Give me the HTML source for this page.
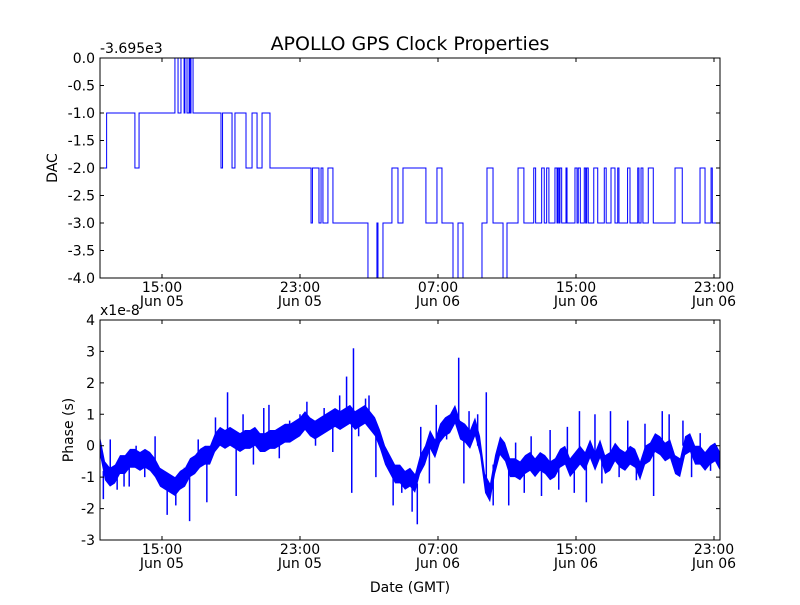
<!DOCTYPE html>
<html><head><meta charset="utf-8"><style>
body{margin:0;background:#fff}
svg text{font-family:"DejaVu Sans","Liberation Sans",sans-serif;fill:#000}
</style></head><body>
<svg id="c" width="800" height="600" xmlns="http://www.w3.org/2000/svg">
<rect width="800" height="600" fill="#fff"/>
<text x="410" y="50" font-size="19" text-anchor="middle">APOLLO GPS Clock Properties</text>
<text x="100" y="53" font-size="14">-3.695e3</text>
<text x="100" y="315" font-size="14">x1e-8</text>
<text transform="translate(57,168) rotate(-90)" font-size="14" text-anchor="middle">DAC</text>
<text transform="translate(73,430) rotate(-90)" font-size="14" text-anchor="middle">Phase (s)</text>
<text x="410" y="592" font-size="14" text-anchor="middle">Date (GMT)</text>
<g id="top"></g>
<g id="bot"></g>
</svg>
<script>
// x ticks (hours since Jun 05 00:00)
const tickHours = [15, 23, 31, 39, 47];
const tickTime = ["15:00", "23:00", "07:00", "15:00", "23:00"];
const tickDate = ["Jun 05", "Jun 05", "Jun 06", "Jun 06", "Jun 06"];
const dacTicks = [0, -0.5, -1, -1.5, -2, -2.5, -3, -3.5, -4];
const phaseTicks = [4, 3, 2, 1, 0, -1, -2, -3];
// DAC step series: change times (hours) and new values
const dacTimes = [11.41,11.79,13.43,13.67,15.75,15.93,16.10,16.28,16.33,16.45,16.57,16.62,16.68,16.80,18.42,18.51,19.06,19.23,19.87,20.22,20.51,20.80,21.26,23.64,23.72,24.10,24.22,24.33,24.62,24.91,26.94,27.46,27.52,27.81,28.33,28.68,28.97,30.30,30.94,31.23,31.87,32.16,32.45,33.55,33.84,34.19,34.77,35.00,35.64,35.98,36.55,36.66,37.01,37.16,37.30,37.43,37.78,37.90,37.94,38.01,38.07,38.17,38.42,38.48,38.94,39.06,39.13,39.25,39.48,39.56,39.62,39.71,40.03,40.26,40.64,40.75,41.03,41.26,41.42,41.49,41.99,42.13,42.58,42.65,42.77,42.88,43.19,43.48,44.74,45.16,46.19,46.48,46.83,46.90];
const dacValues = [-2,-1,-2,-1,0,-1,0,-1,0,-1,0,-1,0,-1,-2,-1,-2,-1,-2,-1,-2,-1,-2,-3,-2,-3,-2,-3,-2,-3,-4,-3,-4,-3,-2,-3,-2,-3,-2,-3,-4,-3,-4,-3,-2,-3,-4,-3,-2,-3,-2,-3,-2,-3,-2,-3,-2,-3,-2,-3,-2,-3,-2,-3,-2,-3,-2,-3,-2,-3,-2,-3,-2,-3,-2,-3,-2,-3,-2,-3,-2,-3,-2,-3,-2,-3,-2,-3,-2,-3,-2,-3,-2,-3];
const dacEnd = 47.4;
// Phase (1e-8 s) sampled from start hour with fixed step
const phaseStart = 11.406, phaseStep = 0.2899;
const phaseValues = [0,-0.8,-1.0,-0.9,-0.6,-0.6,-0.4,-0.4,-0.5,-0.4,-0.5,-0.7,-1.0,-1.1,-1.2,-1.3,-1.1,-1.0,-0.7,-0.6,-0.4,-0.3,-0.3,0.1,0.3,0.2,0.3,0.2,0.1,0.2,0.2,0.3,0.1,0.1,0.2,0.2,0.3,0.4,0.4,0.5,0.6,0.8,0.6,0.5,0.6,0.7,0.8,0.9,0.8,0.9,1.0,0.8,0.9,1.0,0.8,0.6,0.2,-0.3,-0.6,-0.9,-0.9,-1.1,-1.0,-1.2,-0.6,-0.3,0.2,-0.1,0.4,0.6,0.7,1.0,0.5,0.4,0.2,0.6,0.0,-1.2,-1.5,-0.6,0.0,-0.2,-0.7,-0.7,-0.8,-0.6,-0.5,-0.7,-0.5,-0.6,-0.8,-0.7,-0.4,-0.3,-0.7,-0.5,-0.3,-0.5,-0.1,-0.5,-0.1,-0.6,-0.5,-0.2,-0.4,-0.5,-0.3,-0.4,-0.8,-0.3,-0.2,0.1,0.0,-0.2,-0.1,-0.6,-0.7,0.0,0.1,-0.3,-0.3,-0.5,-0.3,-0.2,-0.5];
// Phase spikes / noise excursions: times and peak values
const spikeTimes = [11.6,12.0,12.4,12.8,13.1,13.5,14.0,14.6,15.3,15.8,16.3,16.6,17.1,17.6,18.1,18.8,19.3,19.7,20.3,20.9,21.2,21.8,22.4,23.0,23.4,23.9,24.4,24.9,25.3,25.7,26.1,26.0,26.4,26.8,27.0,27.4,28.0,28.4,28.9,29.5,29.8,30.0,30.5,30.9,31.5,32.2,32.5,32.8,33.3,33.8,34.2,34.7,35.1,35.5,36.0,36.4,37.0,37.5,38.0,38.5,38.9,39.2,39.6,40.1,40.5,41.0,41.5,42.0,42.5,43.0,43.5,44.0,44.4,44.9,45.2,45.7,46.2,46.8];
const spikeValues = [-1.7,0.2,-1.4,-1.3,-1.3,0.0,-1.0,0.3,-2.2,-1.9,-0.7,-2.4,0.2,-1.8,0.9,1.7,-1.6,1.0,-0.6,1.2,1.3,-0.4,0.8,1.0,1.4,0.0,1.2,-0.2,1.6,2.2,3.1,-1.5,0.3,1.5,1.6,-1.0,-0.6,-1.9,-1.5,-2.1,-2.5,0.6,-1.2,1.3,0.2,2.8,-1.2,1.1,1.0,1.7,-1.9,-0.2,-1.9,0.1,-1.5,0.3,-1.6,0.5,-1.4,0.6,-1.5,1.1,-1.8,1.0,-1.2,1.1,-1.0,0.8,-1.1,0.7,-1.6,1.1,1.0,-0.8,0.8,-1.0,0.4,-0.8];

const NS = "http://www.w3.org/2000/svg";
const X0 = 100, X1 = 720, T0 = 11.406, PXH = 17.25;
const xs = t => X0 + (t - T0) * PXH;
const yDac = v => 58 + (0 - v) * 55;
const yPh = v => 320 + (4 - v) * (220 / 7);
function mk(parent, tag, attrs) {
  const e = document.createElementNS(NS, tag);
  for (const k in attrs) e.setAttribute(k, attrs[k]);
  parent.appendChild(e);
  return e;
}
function axes(g, top, bottom, yt, yfn, fmt, lblY1) {
  yt.forEach(v => {
    const y = yfn(v);
    const tk = mk(g, "path", {d: `M${X0} ${y}h4M${X1} ${y}h-4`, stroke: "#000", "stroke-width": 1});
    
    
    const t = mk(g, "text", {x: X0 - 5, y: y + 5, "font-size": 14, "text-anchor": "end"});
    t.textContent = fmt(v);
    
    
  });
  tickHours.forEach((h, i) => {
    const x = xs(h);
    const tk = mk(g, "path", {d: `M${x} ${bottom}v-4M${x} ${top}v4`, stroke: "#000", "stroke-width": 1});
    
    
    const a = mk(g, "text", {x: x, y: lblY1, "font-size": 14, "text-anchor": "middle"});
    a.textContent = tickTime[i];
    
    
    const b = mk(g, "text", {x: x, y: lblY1 + 14, "font-size": 14, "text-anchor": "middle"});
    b.textContent = tickDate[i];
    
    
  });
}
const defs = mk(document.getElementById("c"), "defs", {});
[[58, 278], [320, 540]].forEach(([a, b]) => {
  const cp = mk(defs, "clipPath", {id: "clip" + a});
  mk(cp, "rect", {x: X0, y: a, width: X1 - X0, height: b - a});
});
// top
const gt = document.getElementById("top");
let d = "";
dacTimes.forEach((t, i) => {
  const x = xs(t), y = yDac(dacValues[i]);
  d += (i === 0 ? `M${x} ${y}` : `L${x} ${yDac(dacValues[i-1])}L${x} ${y}`);
});
d += `L${xs(dacEnd)} ${yDac(dacValues[dacValues.length-1])}`;
const dl = mk(gt, "path", {d: d, fill: "none", stroke: "#0000ff", "stroke-width": 1, "clip-path": "url(#clip58)"});


axes(gt, 58, 278, dacTicks, yDac, v => v.toFixed(1), 292);
const f1 = mk(gt, "rect", {x: X0, y: 58, width: X1 - X0, height: 220, fill: "none", stroke: "#000", "stroke-width": 1});


// bottom
const gb = document.getElementById("bot");
let up = "", dn = "", ln = "";
const H = 0.3;
phaseValues.forEach((v, i) => {
  const x = xs(phaseStart + i * phaseStep);
  up += (i ? "L" : "M") + x + " " + yPh(v + H);
  ln += (i ? "L" : "M") + x + " " + yPh(v);
});
for (let i = phaseValues.length - 1; i >= 0; i--) {
  dn += "L" + xs(phaseStart + i * phaseStep) + " " + yPh(phaseValues[i] - H);
}
const band = mk(gb, "path", {d: up + dn + "Z", fill: "#0000ff", stroke: "none", "clip-path": "url(#clip320)"});


const pl = mk(gb, "path", {d: ln, fill: "none", stroke: "#0000ff", "stroke-width": 1, "clip-path": "url(#clip320)"});


spikeTimes.forEach((t, i) => {
  const idx = Math.min(phaseValues.length - 1, Math.max(0, Math.round((t - phaseStart) / phaseStep)));
  const s = mk(gb, "line", {x1: xs(t), x2: xs(t), y1: yPh(phaseValues[idx]), y2: yPh(spikeValues[i]), stroke: "#0000ff", "stroke-width": 1.5, "clip-path": "url(#clip320)"});
  
  
});
axes(gb, 320, 540, phaseTicks, yPh, v => String(v), 554);
const f2 = mk(gb, "rect", {x: X0, y: 320, width: X1 - X0, height: 220, fill: "none", stroke: "#000", "stroke-width": 1});


</script>
</body></html>
